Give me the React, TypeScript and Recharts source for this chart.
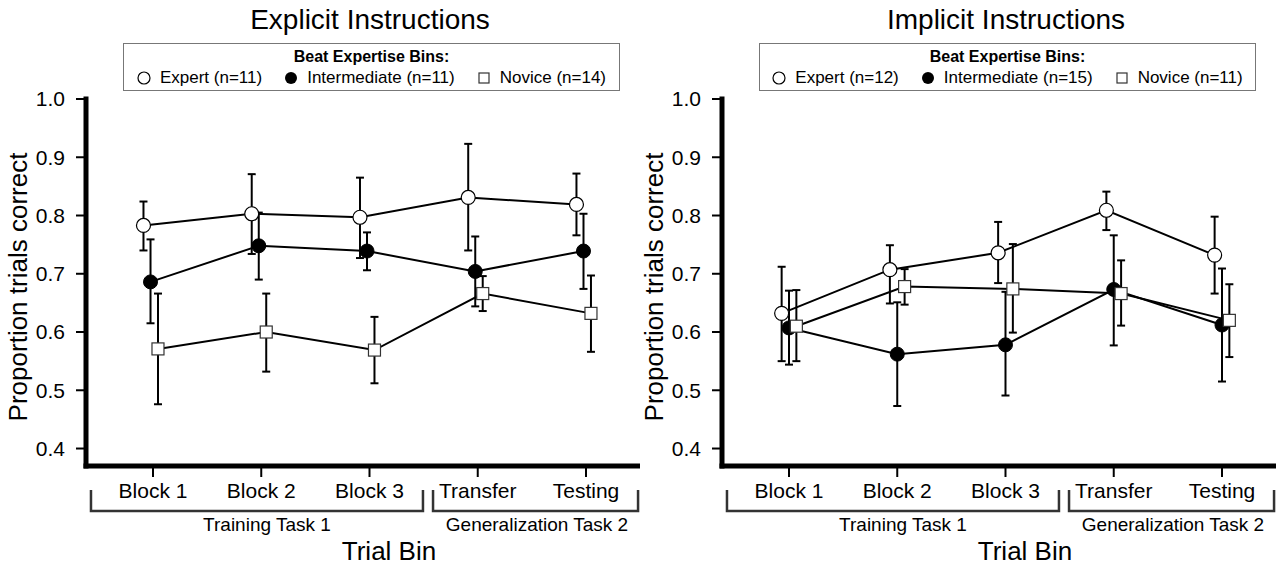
import React from 'react';
import { LineChart, Line, XAxis, YAxis, ErrorBar } from 'recharts';

const trialBins = ['Block 1', 'Block 2', 'Block 3', 'Transfer', 'Testing'];
const yTicks = [0.4, 0.5, 0.6, 0.7, 0.8, 0.9, 1.0];

// Explicit instructions panel
const explicitExpert = [0.783, 0.803, 0.797, 0.831, 0.819];
const explicitExpertLo = [0.740, 0.734, 0.727, 0.740, 0.766];
const explicitExpertHi = [0.824, 0.871, 0.865, 0.923, 0.872];
const explicitInter = [0.686, 0.748, 0.739, 0.704, 0.739];
const explicitInterLo = [0.615, 0.690, 0.706, 0.644, 0.674];
const explicitInterHi = [0.759, 0.805, 0.771, 0.764, 0.803];
const explicitNovice = [0.571, 0.600, 0.569, 0.666, 0.632];
const explicitNoviceLo = [0.476, 0.532, 0.512, 0.636, 0.566];
const explicitNoviceHi = [0.666, 0.666, 0.626, 0.696, 0.697];

// Implicit instructions panel
const implicitExpert = [0.632, 0.707, 0.736, 0.809, 0.732];
const implicitExpertLo = [0.550, 0.649, 0.684, 0.775, 0.666];
const implicitExpertHi = [0.712, 0.749, 0.789, 0.841, 0.798];
const implicitInter = [0.607, 0.562, 0.578, 0.673, 0.612];
const implicitInterLo = [0.544, 0.473, 0.491, 0.577, 0.515];
const implicitInterHi = [0.671, 0.651, 0.669, 0.766, 0.709];
const implicitNovice = [0.610, 0.678, 0.674, 0.666, 0.620];
const implicitNoviceLo = [0.550, 0.647, 0.599, 0.611, 0.557];
const implicitNoviceHi = [0.672, 0.708, 0.751, 0.723, 0.682];

const explicitCounts = [11, 11, 14];
const implicitCounts = [12, 15, 11];

const FONT = '"Liberation Sans", Arial, Helvetica, sans-serif';
const W = 640;
const H = 567;
const AXIS_X = 86;
const PLOT_TOP = 99;
const X_AXIS_H = 101;
const X_DOMAIN: [number, number] = [0.381, 5.499];

// horizontal dodge per group (Expert, Intermediate, Novice)
const explicitDodge = [-0.088, -0.023, 0.046];
const implicitDodge = [-0.068, 0, 0.068];

const px = (v: number) => AXIS_X + ((v - X_DOMAIN[0]) * (W - AXIS_X)) / (X_DOMAIN[1] - X_DOMAIN[0]);

function series(values: number[], lo: number[], hi: number[], dodge: number) {
  return values.map((v, i) => ({ x: i + 1 + dodge, y: v, err: [v - lo[i], hi[i] - v] }));
}

const openCircle = (p: any) => (
  <circle key={`o${p.index}`} cx={p.cx} cy={p.cy} r={7} fill="#fff" stroke="#000" strokeWidth={1.2} />
);
const filledCircle = (p: any) => (
  <circle key={`f${p.index}`} cx={p.cx} cy={p.cy} r={7} fill="#000" stroke="#000" strokeWidth={1} />
);
const square = (p: any) => (
  <rect key={`s${p.index}`} x={p.cx - 6} y={p.cy - 6} width={12} height={12} fill="#fff" stroke="#333" strokeWidth={1.2} />
);

function LegendMarker({ kind }: { kind: number }) {
  return (
    <svg width={14} height={14} style={{ marginRight: 9 }}>
      {kind === 0 && <circle cx={7} cy={7} r={6} fill="#fff" stroke="#000" strokeWidth={1.2} />}
      {kind === 1 && <circle cx={7} cy={7} r={6} fill="#000" />}
      {kind === 2 && <rect x={2} y={2} width={10} height={10} fill="#fff" stroke="#333" strokeWidth={1.2} />}
    </svg>
  );
}

function Panel({ left, title, counts, data }: { left: number; title: string; counts: number[]; data: any[][] }) {
  const names = ['Expert', 'Intermediate', 'Novice'];
  const dots = [openCircle, filledCircle, square];
  return (
    <div style={{ position: 'absolute', left, top: 0, width: W, height: H }}>
      <LineChart width={W} height={H} margin={{ top: PLOT_TOP, right: 0, bottom: 0, left: 0 }} style={{ fontFamily: FONT }}>
        <XAxis
          dataKey="x"
          type="number"
          domain={X_DOMAIN}
          allowDataOverflow
          ticks={[1, 2, 3, 4, 5]}
          tickFormatter={(v: number) => trialBins[Math.round(v) - 1]}
          height={X_AXIS_H}
          axisLine={{ stroke: '#000', strokeWidth: 5, strokeLinecap: 'square' }}
          tickLine={{ stroke: '#000', strokeWidth: 2 }}
          tickSize={11}
          tickMargin={6}
          tick={{ fontSize: 21, fill: '#000', fontFamily: FONT }}
        />
        <YAxis
          type="number"
          domain={[0.37, 1.0]}
          allowDataOverflow
          ticks={yTicks}
          tickFormatter={(v: number) => v.toFixed(1)}
          width={AXIS_X}
          axisLine={{ stroke: '#000', strokeWidth: 5, strokeLinecap: 'square' }}
          tickLine={{ stroke: '#000', strokeWidth: 2 }}
          tickSize={10}
          tickMargin={11}
          tick={{ fontSize: 21, fill: '#000', fontFamily: FONT }}
        />
        {data.map((d, gi) => (
          <Line
            key={names[gi]}
            data={d}
            dataKey="y"
            name={names[gi]}
            stroke="#000"
            strokeWidth={2}
            dot={dots[gi]}
            activeDot={false}
            isAnimationActive={false}
          >
            <ErrorBar dataKey="err" direction="y" width={4} stroke="#000" strokeWidth={2} />
          </Line>
        ))}
      </LineChart>
      <svg width={W} height={H} style={{ position: 'absolute', left: 0, top: 0, pointerEvents: 'none', fontFamily: FONT }}>
        <text x={370} y={29} textAnchor="middle" fontSize={28} fill="#000">{title}</text>
        <text x={-287} y={27} transform="rotate(-90)" textAnchor="middle" fontSize={26} fill="#000">
          Proportion trials correct
        </text>
        <path
          d={`M${px(0.427)},490 V511 H${px(3.494)} V490`}
          fill="none"
          stroke="#333"
          strokeWidth={2.5}
        />
        <path
          d={`M${px(3.587)},490 V511 H${px(5.481)} V490`}
          fill="none"
          stroke="#333"
          strokeWidth={2.5}
        />
        <text x={267} y={531} textAnchor="middle" fontSize={19} fill="#000">Training Task 1</text>
        <text x={537} y={531} textAnchor="middle" fontSize={19} fill="#000">Generalization Task 2</text>
        <text x={389} y={560} textAnchor="middle" fontSize={26} fill="#000">Trial Bin</text>
      </svg>
      <div
        style={{
          position: 'absolute',
          left: 123,
          top: 43,
          width: 497,
          height: 48,
          boxSizing: 'border-box',
          border: '1px solid #777',
          background: '#fff',
          fontFamily: FONT,
          color: '#000',
        }}
      >
        <div style={{ position: 'absolute', left: 0, right: 0, top: 3, lineHeight: '20px', fontSize: 16, fontWeight: 'bold', textAlign: 'center' }}>
          Beat Expertise Bins:
        </div>
        <div
          style={{
            position: 'absolute',
            left: 0,
            right: 0,
            top: 24,
            lineHeight: '20px',
            fontSize: 17,
            display: 'flex',
            justifyContent: 'center',
            alignItems: 'center',
            gap: 22,
            whiteSpace: 'nowrap',
          }}
        >
          {names.map((n, i) => (
            <span key={n} style={{ display: 'flex', alignItems: 'center' }}>
              <LegendMarker kind={i} />
              {`${n} (n=${counts[i]})`}
            </span>
          ))}
        </div>
      </div>
    </div>
  );
}

export default function App() {
  const explicitData = [
    series(explicitExpert, explicitExpertLo, explicitExpertHi, explicitDodge[0]),
    series(explicitInter, explicitInterLo, explicitInterHi, explicitDodge[1]),
    series(explicitNovice, explicitNoviceLo, explicitNoviceHi, explicitDodge[2]),
  ];
  const implicitData = [
    series(implicitExpert, implicitExpertLo, implicitExpertHi, implicitDodge[0]),
    series(implicitInter, implicitInterLo, implicitInterHi, implicitDodge[1]),
    series(implicitNovice, implicitNoviceLo, implicitNoviceHi, implicitDodge[2]),
  ];
  return (
    <div style={{ position: 'absolute', left: 0, top: 0, width: 1280, height: 567, background: '#fff', overflow: 'hidden' }}>
      <Panel left={0} title="Explicit Instructions" counts={explicitCounts} data={explicitData} />
      <Panel left={636} title="Implicit Instructions" counts={implicitCounts} data={implicitData} />
    </div>
  );
}
